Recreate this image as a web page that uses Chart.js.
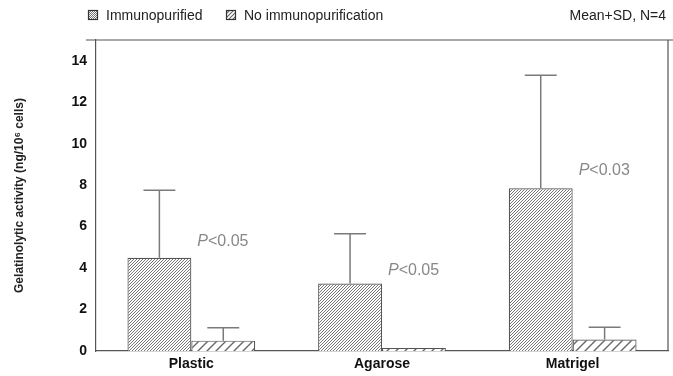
<!DOCTYPE html>
<html>
<head>
<meta charset="utf-8">
<script src="https://cdn.jsdelivr.net/npm/chart.js@4"></script>
<style>
  html, body { margin: 0; padding: 0; background: #fff; }
  #wrap { width: 673px; height: 376px; position: relative; }
</style>
</head>
<body>
<div id="wrap"><canvas id="chart" width="673" height="376"></canvas></div>
<script>
// 数据
const categories = ['Plastic', 'Agarose', 'Matrigel'];
const immunoMeans = [4.5, 3.25, 7.85];
const immunoSD = [3.25, 2.4, 5.45];
const noImmunoMeans = [0.5, 0.15, 0.55];
const noImmunoSD = [0.62, 0, 0.6];
const pLabels = ['P<0.05', 'P<0.05', 'P<0.03'];
const pLabelY = [5.3, 3.9, 8.7];
const yTicks = [0, 2, 4, 6, 8, 10, 12, 14];

const INK = '#555';
const GREY = '#7a7a7a';
const FONT = '"Liberation Sans", Arial, sans-serif';

// 斜线填充图案
function makeHatch(spacing, lineWidth) {
    const c = document.createElement('canvas');
    c.width = spacing;
    c.height = spacing;
    const g = c.getContext('2d');
    g.fillStyle = '#fff';
    g.fillRect(0, 0, spacing, spacing);
    g.strokeStyle = '#666';
    g.lineWidth = lineWidth;
    g.beginPath();
    g.moveTo(-1, spacing + 1);
    g.lineTo(spacing + 1, -1);
    g.moveTo(-1, 1);
    g.lineTo(1, -1);
    g.moveTo(spacing - 1, spacing + 1);
    g.lineTo(spacing + 1, spacing - 1);
    g.stroke();
    return g.createPattern(c, 'repeat');
}

const denseHatch = makeHatch(3, 0.9);
const sparseHatch = makeHatch(9, 1.4);

// 误差线、P 值、图例、边框
const extras = {
    id: 'extras',
    afterDatasetsDraw(chart) {
        const ctx = chart.ctx;
        const y = chart.scales.y;
        const area = chart.chartArea;

        // 误差线
        const sds = [immunoSD, noImmunoSD];
        const means = [immunoMeans, noImmunoMeans];
        ctx.save();
        ctx.strokeStyle = GREY;
        ctx.lineWidth = 1.5;
        [0, 1].forEach(di => {
            chart.getDatasetMeta(di).data.forEach((bar, i) => {
                if (!sds[di][i]) return;
                const yTop = y.getPixelForValue(means[di][i] + sds[di][i]);
                const yBar = y.getPixelForValue(means[di][i]);
                const half = bar.width / 4;
                ctx.beginPath();
                ctx.moveTo(bar.x, yBar);
                ctx.lineTo(bar.x, yTop);
                ctx.moveTo(bar.x - half, yTop);
                ctx.lineTo(bar.x + half, yTop);
                ctx.stroke();
            });
        });

        // P 值标注
        ctx.fillStyle = '#888';
        ctx.textBaseline = 'middle';
        const meta = chart.getDatasetMeta(1);
        pLabels.forEach((txt, i) => {
            const bar = meta.data[i];
            const x0 = bar.x - bar.width / 2 + 6;
            const py = y.getPixelForValue(pLabelY[i]);
            ctx.font = 'italic 16px ' + FONT;
            ctx.fillText('P', x0, py);
            const w = ctx.measureText('P').width;
            ctx.font = '16px ' + FONT;
            ctx.fillText(txt.slice(1), x0 + w, py);
        });

        // 上边框和右边框
        ctx.strokeStyle = INK;
        ctx.lineWidth = 1.2;
        ctx.beginPath();
        ctx.moveTo(area.left - 10, area.top);
        ctx.lineTo(chart.width, area.top);
        ctx.moveTo(area.right, area.top);
        ctx.lineTo(area.right, area.bottom);
        ctx.stroke();

        // 图例
        ctx.font = '14px ' + FONT;
        const legend = [
            { x: 88, label: 'Immunopurified', fill: makeHatch(2, 0.9) },
            { x: 226, label: 'No immunopurification', fill: makeHatch(4, 1.2) }
        ];
        legend.forEach(item => {
            ctx.fillStyle = item.fill;
            ctx.fillRect(item.x, 10, 10, 10);
            ctx.strokeStyle = '#333';
            ctx.lineWidth = 1.2;
            ctx.strokeRect(item.x + 0.5, 10.5, 9, 9);
            ctx.fillStyle = '#222';
            ctx.fillText(item.label, item.x + 18, 16);
        });
        ctx.textAlign = 'right';
        ctx.fillText('Mean+SD, N=4', 666, 16);
        ctx.restore();
    }
};

new Chart(document.getElementById('chart'), {
    type: 'bar',
    data: {
        labels: categories,
        datasets: [
            {
                label: 'Immunopurified',
                data: immunoMeans,
                backgroundColor: denseHatch,
                borderColor: '#555',
                borderWidth: 1.2,
                categoryPercentage: 0.67,
                barPercentage: 1.0
            },
            {
                label: 'No immunopurification',
                data: noImmunoMeans,
                backgroundColor: sparseHatch,
                borderColor: '#555',
                borderWidth: 1.2,
                categoryPercentage: 0.67,
                barPercentage: 1.0
            }
        ]
    },
    options: {
        responsive: false,
        animation: false,
        layout: { padding: { top: 40, right: 5, left: 10, bottom: 0 } },
        plugins: {
            legend: { display: false },
            tooltip: { enabled: false }
        },
        scales: {
            x: {
                grid: { display: false, drawTicks: true, tickLength: 4, color: INK },
                border: { color: INK, width: 1.2 },
                ticks: {
                    color: '#111',
                    padding: 1,
                    font: { family: FONT, size: 14, weight: 'bold' }
                },
                afterFit(scale) { scale.height = 25; }
            },
            y: {
                min: 0,
                max: 15,
                afterBuildTicks(scale) {
                    scale.ticks = yTicks.map(v => ({ value: v }));
                },
                grid: { display: false, drawTicks: true, tickLength: 7, color: INK },
                border: { color: INK, width: 1.2 },
                ticks: {
                    color: '#111',
                    padding: 2,
                    font: { family: FONT, size: 14, weight: 'bold' }
                },
                title: {
                    display: true,
                    text: 'Gelatinolytic activity (ng/10⁶ cells)',
                    color: '#222',
                    padding: { top: 2, bottom: 0 },
                    font: { family: FONT, size: 12, weight: 'bold' }
                },
                afterFit(scale) { scale.width = 86; }
            }
        }
    },
    plugins: [extras]
});
</script>
</body>
</html>
